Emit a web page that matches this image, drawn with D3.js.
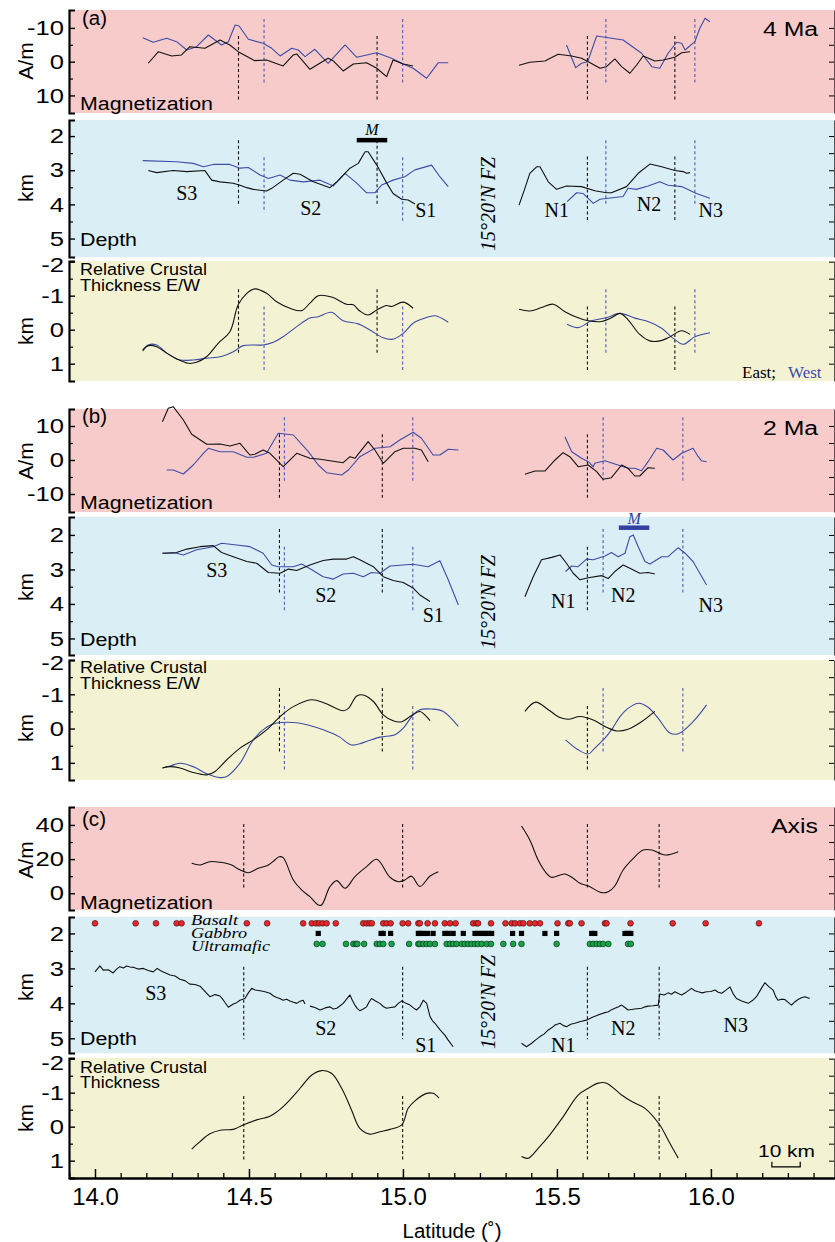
<!DOCTYPE html>
<html><head><meta charset="utf-8">
<script src="https://cdn.jsdelivr.net/npm/d3@7"></script>
<style>body{margin:0;background:#fff}svg{display:block}</style>
</head><body>
<svg id="c" width="835" height="1242"></svg>
<script>
// ---------------- DATA ----------------
const xTickValues = [14.0, 14.5, 15.0, 15.5, 16.0];
const xTickLabels = ["14.0", "14.5", "15.0", "15.5", "16.0"];
const magTicksAB = [-10, 0, 10];
const magTicksC = [0, 20, 40];
const depTicks = [2, 3, 4, 5];
const thkTicks = [-2, -1, 0, 1];

// (a) 4 Ma
const a_mag_east_s = [[14.173,0.47],[14.206,-2.96],[14.249,-1.69],[14.281,-1.98],[14.308,-4.44],[14.357,-3.96],[14.406,-6.42],[14.438,-4.94],[14.465,-2.96],[14.519,-0.30],[14.557,-0.50],[14.611,1.27],[14.644,-1.98],[14.655,-2.28],[14.698,2.25],[14.757,-1.01],[14.773,-0.30],[14.806,2.75],[14.839,0.68],[14.882,0.30],[14.915,1.95],[14.947,4.44],[14.968,-0.50],[15.001,0.68],[15.033,1.27]];
const a_mag_west_s = [[14.155,-7.10],[14.189,-5.74],[14.233,-6.92],[14.265,-5.92],[14.298,-3.46],[14.330,-4.44],[14.368,-7.90],[14.411,-4.94],[14.433,-5.92],[14.455,-10.86],[14.468,-10.56],[14.498,-6.63],[14.546,-5.44],[14.574,-3.96],[14.601,-1.69],[14.639,-3.96],[14.660,-3.46],[14.682,-1.48],[14.714,-3.67],[14.757,0.47],[14.812,-4.94],[14.850,-1.30],[14.915,-2.66],[14.963,-1.01],[15.001,0.68],[15.033,1.95],[15.077,4.91],[15.093,2.96],[15.115,0.30],[15.147,0.30]];
const a_mag_east_n = [[15.377,1.07],[15.412,0.18],[15.461,-0.21],[15.504,-2.19],[15.548,-1.69],[15.580,-1.01],[15.602,0.00],[15.640,1.95],[15.661,1.48],[15.688,-0.80],[15.710,1.48],[15.737,3.43],[15.759,0.98],[15.780,-1.69],[15.818,-0.21],[15.845,-0.50],[15.883,-1.30],[15.905,-2.66],[15.932,-2.96]];
const a_mag_west_n = [[15.531,-4.94],[15.561,1.78],[15.580,0.47],[15.600,0.00],[15.629,-7.60],[15.667,-7.10],[15.715,-6.42],[15.775,-2.49],[15.808,1.48],[15.834,1.95],[15.861,-2.49],[15.889,-5.74],[15.905,-5.44],[15.916,-3.46],[15.948,-5.92],[15.964,-9.88],[15.981,-12.84],[15.997,-11.83]];
const a_dep_east_s = [[14.173,3.01],[14.200,3.07],[14.254,3.01],[14.298,3.04],[14.357,3.01],[14.379,3.29],[14.406,3.34],[14.449,3.38],[14.471,3.44],[14.493,3.51],[14.514,3.56],[14.557,3.61],[14.574,3.53],[14.611,3.29],[14.644,3.09],[14.666,3.12],[14.709,3.34],[14.763,3.51],[14.785,3.34],[14.828,2.94],[14.855,2.80],[14.877,2.46],[14.887,2.46],[14.915,2.85],[14.947,3.37],[14.968,3.68],[14.996,3.85],[15.017,3.87],[15.039,3.99]];
const a_dep_west_s = [[14.155,2.72],[14.265,2.75],[14.319,2.80],[14.352,2.90],[14.384,2.83],[14.438,2.83],[14.471,2.94],[14.498,2.92],[14.536,3.14],[14.563,3.24],[14.601,3.14],[14.633,3.29],[14.676,3.34],[14.731,3.29],[14.774,3.46],[14.812,3.09],[14.850,3.38],[14.882,3.66],[14.909,3.66],[14.931,3.43],[14.968,3.29],[15.006,3.19],[15.039,2.99],[15.093,2.85],[15.120,3.19],[15.147,3.48]];
const a_dep_east_n = [[15.377,4.02],[15.396,3.53],[15.412,3.09],[15.434,2.90],[15.445,2.90],[15.472,3.34],[15.499,3.56],[15.531,3.46],[15.580,3.48],[15.623,3.60],[15.661,3.66],[15.677,3.66],[15.726,3.48],[15.764,3.09],[15.802,2.82],[15.840,2.90],[15.883,3.01],[15.910,3.04],[15.921,3.09],[15.932,3.07]];
const a_dep_west_n = [[15.533,3.92],[15.564,3.66],[15.585,3.68],[15.618,3.97],[15.640,3.85],[15.667,3.82],[15.715,3.77],[15.731,3.53],[15.758,3.56],[15.796,3.46],[15.834,3.34],[15.861,3.44],[15.905,3.48],[15.953,3.68],[15.997,3.82]];
const a_thk_east_s = [[14.155,0.60],[14.173,0.47],[14.200,0.50],[14.233,0.69],[14.265,0.86],[14.303,0.99],[14.330,0.96],[14.363,0.79],[14.400,0.40],[14.438,0.06],[14.465,-0.73],[14.493,-1.07],[14.519,-1.20],[14.557,-1.07],[14.590,-0.82],[14.633,-0.63],[14.671,-0.56],[14.698,-0.78],[14.725,-1.00],[14.768,-0.96],[14.817,-0.75],[14.839,-0.73],[14.860,-0.55],[14.887,-0.43],[14.915,-0.58],[14.947,-0.71],[14.963,-0.68],[15.001,-0.81],[15.033,-0.63]];
const a_thk_west_s = [[14.155,0.63],[14.173,0.45],[14.200,0.45],[14.233,0.69],[14.276,0.89],[14.319,0.89],[14.363,0.84],[14.411,0.79],[14.449,0.65],[14.481,0.47],[14.546,0.45],[14.579,0.37],[14.611,0.21],[14.655,-0.09],[14.698,-0.34],[14.725,-0.38],[14.768,-0.51],[14.806,-0.26],[14.855,-0.17],[14.893,0.01],[14.936,0.24],[14.968,0.28],[15.001,0.11],[15.033,-0.19],[15.071,-0.34],[15.104,-0.41],[15.147,-0.22]];
const a_thk_east_n = [[15.377,-0.60],[15.412,-0.55],[15.450,-0.65],[15.488,-0.75],[15.526,-0.53],[15.569,-0.35],[15.602,-0.26],[15.645,-0.24],[15.677,-0.35],[15.705,-0.48],[15.731,-0.29],[15.769,0.14],[15.802,0.33],[15.834,0.33],[15.861,0.24],[15.905,0.03],[15.932,0.14]];
const a_thk_west_n = [[15.533,-0.16],[15.569,-0.06],[15.612,-0.26],[15.661,-0.35],[15.705,-0.48],[15.753,-0.34],[15.796,-0.24],[15.840,-0.04],[15.877,0.25],[15.910,0.43],[15.948,0.21],[15.997,0.09]];
const a_dash_east_lat = [14.466, 14.916, 15.599, 15.883];
const a_dash_west_lat = [14.549, 14.999, 15.659, 15.948];
const a_mag_dash_east = [[-7.6,11.6],[-7.6,11.6],[-7.6,11.6],[-7.6,11.6]];
const a_mag_dash_west = [[-12.6,6.6],[-12.6,6.6],[-12.6,6.6],[-12.6,6.6]];
const a_dep_dash_east = [[2.12,4.02],[2.12,4.02],[2.6,4.5],[2.6,4.5]];
const a_dep_dash_west = [[2.62,4.24],[2.62,4.5],[2.12,4.02],[2.12,4.02]];
const a_thk_dash_east = [[-1.19,0.74],[-1.19,0.74],[-0.68,1.25],[-0.68,1.25]];
const a_thk_dash_west = [[-0.68,1.25],[-0.68,1.25],[-1.19,0.74],[-1.19,0.74]];
const a_mbar = [14.850, 14.949, 2.12];

// (b) 2 Ma
const b_mag_east_s = [[14.219,11.26],[14.238,15.21],[14.254,15.68],[14.287,11.76],[14.314,7.56],[14.363,4.62],[14.406,4.71],[14.438,4.12],[14.471,4.91],[14.503,1.47],[14.519,1.68],[14.546,2.94],[14.568,1.97],[14.611,-1.97],[14.655,1.97],[14.698,0.50],[14.731,0.21],[14.806,-0.79],[14.828,0.97],[14.844,0.50],[14.887,5.38],[14.909,2.94],[14.936,-0.97],[14.974,2.44],[15.001,3.44],[15.039,3.44],[15.060,2.94],[15.082,-0.50]];
const b_mag_west_s = [[14.233,-2.94],[14.254,-2.94],[14.287,-4.12],[14.319,-1.47],[14.352,1.97],[14.368,3.44],[14.406,2.44],[14.449,2.44],[14.493,0.79],[14.514,0.79],[14.557,1.97],[14.595,7.85],[14.644,7.35],[14.693,2.44],[14.725,-1.47],[14.752,-3.74],[14.801,-4.41],[14.823,-2.94],[14.860,0.97],[14.909,3.44],[14.958,3.91],[14.990,5.88],[15.033,8.15],[15.060,6.38],[15.098,1.47],[15.120,1.47],[15.147,3.15],[15.180,2.94]];
const b_mag_east_n = [[15.396,-4.21],[15.429,-3.24],[15.461,-3.24],[15.494,0.00],[15.520,2.15],[15.542,0.97],[15.569,-1.97],[15.602,-1.47],[15.629,-3.44],[15.650,-5.68],[15.677,-5.21],[15.710,-1.47],[15.731,-2.44],[15.753,-4.71],[15.769,-4.71],[15.796,-2.26],[15.818,-2.44]];
const b_mag_west_n = [[15.526,6.85],[15.548,2.44],[15.580,0.50],[15.602,-0.50],[15.618,-1.97],[15.623,-0.97],[15.656,-0.21],[15.688,-1.18],[15.731,-2.44],[15.753,-2.44],[15.775,-3.15],[15.796,-0.50],[15.824,3.44],[15.845,2.94],[15.877,0.00],[15.905,1.97],[15.942,3.44],[15.959,0.97],[15.969,-0.21],[15.986,-0.50]];
const b_dep_east_s = [[14.219,2.53],[14.265,2.51],[14.298,2.41],[14.341,2.34],[14.384,2.31],[14.411,2.51],[14.449,2.63],[14.493,2.77],[14.525,2.82],[14.563,3.09],[14.601,3.11],[14.628,2.99],[14.655,3.03],[14.698,2.87],[14.741,2.74],[14.774,2.70],[14.817,2.70],[14.839,2.63],[14.860,2.72],[14.904,2.92],[14.936,3.21],[14.968,3.32],[15.001,3.38],[15.033,3.54],[15.055,3.74],[15.088,3.93]];
const b_dep_west_s = [[14.219,2.53],[14.265,2.53],[14.287,2.58],[14.330,2.43],[14.384,2.34],[14.411,2.24],[14.460,2.29],[14.503,2.34],[14.546,2.53],[14.574,2.87],[14.595,2.92],[14.644,2.92],[14.671,2.84],[14.704,3.01],[14.741,3.21],[14.774,3.28],[14.806,3.13],[14.839,3.11],[14.871,3.21],[14.898,3.09],[14.925,3.11],[14.958,2.90],[15.033,2.85],[15.082,2.92],[15.120,2.75],[15.147,3.30],[15.180,4.03]];
const b_dep_east_n = [[15.396,3.79],[15.423,3.21],[15.450,2.72],[15.483,2.65],[15.510,2.58],[15.531,2.82],[15.553,3.11],[15.575,3.30],[15.602,3.24],[15.645,3.18],[15.667,3.26],[15.688,3.06],[15.715,2.87],[15.742,2.99],[15.769,3.11],[15.796,3.09],[15.818,3.13]];
const b_dep_west_n = [[15.528,3.06],[15.548,2.90],[15.569,2.92],[15.596,2.70],[15.618,2.72],[15.656,2.61],[15.677,2.51],[15.699,2.63],[15.721,2.53],[15.737,2.05],[15.748,2.00],[15.764,2.34],[15.786,2.77],[15.802,2.84],[15.840,2.63],[15.861,2.63],[15.894,2.37],[15.916,2.53],[15.942,2.77],[15.964,3.11],[15.986,3.45]];
const b_thk_east_s = [[14.219,1.15],[14.244,1.11],[14.276,1.15],[14.319,1.28],[14.363,1.35],[14.390,1.25],[14.428,0.91],[14.471,0.57],[14.514,0.33],[14.557,0.04],[14.601,-0.35],[14.644,-0.64],[14.703,-0.84],[14.747,-0.74],[14.806,-0.52],[14.823,-0.59],[14.850,-0.95],[14.871,-0.98],[14.904,-0.79],[14.936,-0.40],[14.968,-0.23],[14.996,-0.20],[15.023,-0.35],[15.055,-0.50],[15.071,-0.40],[15.088,-0.23]];
const b_thk_west_s = [[14.219,1.15],[14.244,1.09],[14.276,1.01],[14.319,1.11],[14.363,1.32],[14.406,1.43],[14.428,1.40],[14.471,1.01],[14.514,0.33],[14.557,-0.04],[14.590,-0.16],[14.655,-0.17],[14.709,-0.06],[14.774,0.15],[14.795,0.25],[14.833,0.48],[14.871,0.41],[14.925,0.25],[14.974,0.18],[15.001,-0.01],[15.033,-0.40],[15.055,-0.55],[15.093,-0.57],[15.131,-0.50],[15.180,-0.06]];
const b_thk_east_n = [[15.396,-0.50],[15.431,-0.77],[15.472,-0.55],[15.510,-0.32],[15.537,-0.27],[15.575,-0.35],[15.618,-0.25],[15.656,-0.06],[15.694,0.07],[15.731,0.02],[15.775,-0.20],[15.818,-0.50]];
const b_thk_west_n = [[15.528,0.33],[15.569,0.62],[15.602,0.74],[15.623,0.57],[15.656,0.28],[15.677,0.04],[15.705,-0.35],[15.731,-0.59],[15.766,-0.74],[15.796,-0.62],[15.829,-0.30],[15.867,0.13],[15.894,0.15],[15.942,-0.20],[15.986,-0.69]];
const b_dash_east_lat = [14.599, 14.933, 15.599];
const b_dash_west_lat = [14.615, 15.032, 15.650, 15.909];
const b_mag_dash_east = [[7.56,-11.56],[7.56,-11.56],[7.56,-11.56]];
const b_mag_dash_west = [[12.56,-6.68],[12.56,-6.68],[12.56,-6.68],[12.56,-6.68]];
const b_dep_dash_east = [[1.83,3.74],[1.83,3.74],[2.34,4.22]];
const b_dep_dash_west = [[2.34,4.22],[2.34,4.22],[1.83,3.74],[1.83,3.74]];
const b_thk_dash_east = [[-1.18,0.74],[-1.18,0.74],[-0.66,1.22]];
const b_thk_dash_west = [[-0.66,1.22],[-0.66,1.22],[-1.18,0.74],[-1.18,0.74]];
const b_mbar = [15.701, 15.800, 1.79];

// (c) Axis
const c_mag_s = [[14.314,17.54],[14.341,16.55],[14.373,18.48],[14.406,18.13],[14.444,16.55],[14.465,14.21],[14.498,12.05],[14.530,14.62],[14.563,16.55],[14.584,19.47],[14.598,21.40],[14.611,20.82],[14.644,7.78],[14.671,1.93],[14.698,-1.99],[14.725,-6.84],[14.736,-6.84],[14.763,3.86],[14.785,7.37],[14.812,2.92],[14.844,9.71],[14.882,15.56],[14.915,19.88],[14.958,9.36],[14.985,6.78],[15.006,7.78],[15.028,10.0],[15.055,4.0],[15.088,10.12],[15.115,12.63]];
const c_mag_n = [[15.385,39.36],[15.412,31.17],[15.439,19.47],[15.466,11.70],[15.482,9.36],[15.526,11.29],[15.553,8.77],[15.575,5.85],[15.602,4.27],[15.645,0.35],[15.667,0.94],[15.688,4.27],[15.715,13.63],[15.748,20.47],[15.780,25.32],[15.808,25.32],[15.851,22.40],[15.894,24.33]];
const c_dep_s3 = [[14.000,3.10],[14.016,2.93],[14.027,3.05],[14.043,3.04],[14.059,3.13],[14.070,3.02],[14.081,2.95],[14.092,2.99],[14.103,2.93],[14.114,2.96],[14.124,2.97],[14.140,3.02],[14.157,3.00],[14.173,3.06],[14.189,3.10],[14.202,3.00],[14.212,3.06],[14.222,3.10],[14.244,3.19],[14.260,3.22],[14.276,3.31],[14.292,3.35],[14.308,3.45],[14.325,3.46],[14.341,3.51],[14.357,3.66],[14.373,3.81],[14.390,3.75],[14.406,3.79],[14.417,3.91],[14.433,4.11],[14.449,4.02],[14.460,3.98],[14.471,3.91],[14.487,3.86],[14.498,3.70],[14.509,3.57],[14.520,3.62],[14.536,3.64],[14.552,3.67],[14.568,3.71],[14.580,3.79],[14.590,3.83],[14.600,3.86],[14.611,3.91],[14.622,3.88],[14.633,3.93],[14.645,3.97],[14.655,4.00],[14.666,3.94],[14.676,3.91],[14.682,4.02]];
const c_dep_s2 = [[14.698,4.08],[14.714,4.12],[14.731,4.19],[14.747,4.13],[14.763,4.10],[14.774,4.16],[14.785,4.14],[14.796,4.07],[14.806,4.00],[14.817,3.88],[14.828,3.76],[14.836,3.92],[14.844,4.05],[14.852,4.15],[14.860,4.21],[14.871,4.16],[14.882,4.10],[14.890,3.96],[14.898,3.86],[14.911,3.93],[14.925,4.00],[14.936,4.09],[14.947,4.14],[14.960,4.12],[14.974,4.10],[14.985,4.00],[14.996,3.93],[15.010,4.00],[15.023,4.05],[15.034,4.13],[15.044,4.19],[15.055,4.10],[15.066,3.91],[15.077,4.00],[15.088,4.38],[15.096,4.50],[15.104,4.57],[15.120,4.75],[15.136,4.91],[15.147,5.05],[15.163,5.24]];
const c_dep_n = [[15.385,5.14],[15.401,5.24],[15.418,5.14],[15.430,5.05],[15.445,4.95],[15.458,4.88],[15.472,4.76],[15.483,4.70],[15.494,4.62],[15.510,4.57],[15.520,4.63],[15.531,4.67],[15.545,4.60],[15.558,4.57],[15.577,4.52],[15.596,4.48],[15.615,4.40],[15.634,4.33],[15.650,4.28],[15.667,4.24],[15.678,4.18],[15.688,4.14],[15.700,4.10],[15.710,4.05],[15.721,4.12],[15.731,4.19],[15.753,4.16],[15.775,4.14],[15.786,4.10],[15.796,4.08],[15.812,4.07],[15.829,4.05],[15.834,3.73],[15.848,3.76],[15.861,3.70],[15.872,3.74],[15.883,3.67],[15.894,3.72],[15.905,3.76],[15.920,3.68],[15.937,3.57],[15.948,3.64],[15.959,3.67],[15.972,3.70],[15.986,3.67],[16.000,3.66],[16.013,3.62],[16.024,3.68],[16.035,3.71],[16.048,3.63],[16.062,3.53],[16.072,3.72],[16.083,3.86],[16.100,3.93],[16.121,4.00],[16.135,3.92],[16.148,3.81],[16.162,3.60],[16.175,3.41],[16.188,3.52],[16.202,3.62],[16.210,3.80],[16.218,3.91],[16.229,3.88],[16.240,3.89],[16.251,3.97],[16.262,4.05],[16.272,3.96],[16.283,3.89],[16.294,3.84],[16.305,3.81],[16.321,3.86]];
const c_thk_s = [[14.314,0.66],[14.341,0.44],[14.373,0.21],[14.411,0.10],[14.449,0.08],[14.481,-0.05],[14.525,-0.20],[14.568,-0.31],[14.601,-0.51],[14.633,-0.79],[14.666,-1.13],[14.704,-1.52],[14.736,-1.65],[14.768,-1.57],[14.801,-1.13],[14.833,-0.49],[14.860,0.05],[14.893,0.22],[14.925,0.15],[14.958,0.08],[14.996,-0.05],[15.017,-0.54],[15.039,-0.76],[15.077,-0.98],[15.098,-0.98],[15.117,-0.84]];
const c_thk_n = [[15.385,0.88],[15.407,0.93],[15.439,0.64],[15.477,0.24],[15.520,-0.29],[15.569,-0.93],[15.602,-1.13],[15.634,-1.28],[15.661,-1.28],[15.710,-0.93],[15.743,-0.74],[15.786,-0.54],[15.834,-0.05],[15.861,0.39],[15.894,0.93]];
const c_dash_lat = [14.483, 14.999, 15.599, 15.832];
const c_mag_dash = [40.5, 1.95];
const c_dep_dash = [2.95, 5.03];
const c_thk_dash = [-0.9, 1.03];
const scaleBar = [16.198, 16.290, 1.18];

// Rock samples (latitude)
const basalt = [14.000,14.132,14.198,14.265,14.281,14.493,14.559,14.676,14.704,14.718,14.728,14.739,14.752,14.782,14.871,14.882,14.891,14.899,14.936,14.947,14.960,14.999,15.017,15.050,15.055,15.080,15.104,15.136,15.153,15.171,15.228,15.239,15.244,15.286,15.333,15.353,15.364,15.380,15.391,15.412,15.429,15.445,15.502,15.537,15.542,15.580,15.656,15.661,15.739,15.876,15.983,16.156];
const gabbro = [14.725,14.929,14.936,14.960,15.050,15.055,15.066,15.080,15.098,15.136,15.147,15.163,15.196,15.234,15.244,15.256,15.266,15.277,15.288,15.356,15.385,15.461,15.499,15.613,15.623,15.721,15.731,15.740];
const ultramafic = [14.720,14.739,14.815,14.839,14.847,14.852,14.874,14.915,14.925,14.936,14.963,15.020,15.050,15.055,15.066,15.077,15.088,15.104,15.142,15.153,15.163,15.174,15.191,15.201,15.212,15.223,15.234,15.244,15.256,15.272,15.286,15.326,15.358,15.385,15.499,15.607,15.618,15.629,15.640,15.650,15.667,15.731,15.740];
const sampleRows = {basalt: 1.71, gabbro: 2.0, ultramafic: 2.3};

// ---------------- DRAWING ----------------
const SANS = "'Liberation Sans', Arial, Helvetica, sans-serif";
const SERIF = "'Liberation Serif', 'Times New Roman', Times, serif";
const EAST = "#111111", WEST = "#3d4ca6", WESTDASH = "#4c5cb8";
const BG = {mag: "#f8cbcb", dep: "#daeef6", thk: "#f3f3d3"};
const svg = d3.select("#c");
const X = d3.scaleLinear().domain([13.9156, 16.403]).range([69, 835]);
const gBg = svg.append("g"), gData = svg.append("g"), gAx = svg.append("g"), gTxt = svg.append("g");

function panel(yr, dom, bg) {
  gBg.append("rect").attr("x", 69).attr("y", yr[0]).attr("width", 766).attr("height", yr[1] - yr[0]).attr("fill", bg);
  return d3.scaleLinear().domain(dom).range(yr);
}
function leftAxis(y, majors, minors, topShift) {
  const g = gAx.append("g").attr("transform", "translate(69,0)");
  g.call(d3.axisLeft(y).tickValues(majors).tickFormat(d3.format("d")).tickSize(-6).tickSizeOuter(-6).tickPadding(5));
  g.select(".domain").attr("stroke-width", 2.2);
  g.selectAll(".tick line").attr("stroke-width", 1.4);
  const sx = 1.22;
  g.selectAll(".tick text").attr("font-family", SANS).attr("font-size", 21).attr("fill", "#000")
    .attr("transform", `scale(${sx},1)`).attr("x", -5 / sx).text(d => d < 0 ? "-" + Math.abs(d) : d);
  if (topShift) g.selectAll(".tick text").filter(d => d === majors[0]).attr("y", topShift);
  const m = gAx.append("g").attr("transform", "translate(69,0)");
  m.call(d3.axisLeft(y).tickValues(minors).tickFormat("").tickSize(-4).tickSizeOuter(0));
  m.select(".domain").remove();
  m.selectAll(".tick line").attr("stroke-width", 1.2);
  const r = gAx.append("g").attr("transform", "translate(834,0)");
  r.call(d3.axisRight(y).tickValues(majors.concat(minors)).tickFormat("").tickSize(-5).tickSizeOuter(0));
  r.select(".domain").attr("stroke-width", 1).attr("stroke", "#555");
}
function line(y, data, color, smooth, w) {
  const gen = d3.line().x(d => X(d[0])).y(d => y(d[1])).curve(smooth ? d3.curveCatmullRom.alpha(0.5) : d3.curveLinear);
  gData.append("path").attr("d", gen(data)).attr("fill", "none").attr("stroke", color).attr("stroke-width", w || 1.1).attr("stroke-linejoin", "round");
}
function dashes(y, lats, ext, color) {
  lats.forEach((lat, i) => {
    const e = Array.isArray(ext[0]) ? ext[i] : ext;
    gData.append("line").attr("x1", X(lat)).attr("x2", X(lat)).attr("y1", y(e[0])).attr("y2", y(e[1]))
      .attr("stroke", color).attr("stroke-width", 1.1).attr("stroke-dasharray", "3,2.5");
  });
}
function txt(x, y, s, opt) {
  const t = gTxt.append("text").attr("x", x).attr("y", y).text(s)
    .attr("font-family", opt.serif ? SERIF : SANS).attr("font-size", opt.size).attr("fill", opt.color || "#000");
  if (opt.anchor) t.attr("text-anchor", opt.anchor);
  if (opt.italic) t.attr("font-style", "italic");
  if (opt.len) t.attr("textLength", opt.len).attr("lengthAdjust", "spacingAndGlyphs");
  if (opt.rot) t.attr("transform", `rotate(-90,${x},${y})`);
  return t;
}

// ---- panels
const yAm = panel([10, 113], [-15.3, 15.2], BG.mag);
const yAd = panel([120, 257], [1.53, 5.54], BG.dep);
const yAt = panel([261, 381], [-2.02, 1.51], BG.thk);
const yBm = panel([409, 512], [15, -15.3], BG.mag);
const yBd = panel([517, 655], [1.48, 5.48], BG.dep);
const yBt = panel([660, 780], [-2.0, 1.5], BG.thk);
const yCm = panel([807, 910], [50.5, -9.8], BG.mag);
const yCd = panel([917, 1053], [1.53, 5.42], BG.dep);
const yCt = panel([1058, 1178], [-2.02, 1.51], BG.thk);

// dashed boundaries
dashes(yAm, a_dash_east_lat, a_mag_dash_east, EAST); dashes(yAm, a_dash_west_lat, a_mag_dash_west, WESTDASH);
dashes(yAd, a_dash_east_lat, a_dep_dash_east, EAST); dashes(yAd, a_dash_west_lat, a_dep_dash_west, WESTDASH);
dashes(yAt, a_dash_east_lat, a_thk_dash_east, EAST); dashes(yAt, a_dash_west_lat, a_thk_dash_west, WESTDASH);
dashes(yBm, b_dash_east_lat, b_mag_dash_east, EAST); dashes(yBm, b_dash_west_lat, b_mag_dash_west, WESTDASH);
dashes(yBd, b_dash_east_lat, b_dep_dash_east, EAST); dashes(yBd, b_dash_west_lat, b_dep_dash_west, WESTDASH);
dashes(yBt, b_dash_east_lat, b_thk_dash_east, EAST); dashes(yBt, b_dash_west_lat, b_thk_dash_west, WESTDASH);
dashes(yCm, c_dash_lat, c_mag_dash, EAST); dashes(yCd, c_dash_lat, c_dep_dash, EAST); dashes(yCt, c_dash_lat, c_thk_dash, EAST);

// curves
[[yAm,a_mag_west_s,WEST,0],[yAm,a_mag_west_n,WEST,0],[yAm,a_mag_east_s,EAST,0],[yAm,a_mag_east_n,EAST,0],
 [yAd,a_dep_west_s,WEST,0],[yAd,a_dep_west_n,WEST,0],[yAd,a_dep_east_s,EAST,0],[yAd,a_dep_east_n,EAST,0],
 [yAt,a_thk_west_s,WEST,1],[yAt,a_thk_west_n,WEST,1],[yAt,a_thk_east_s,EAST,1],[yAt,a_thk_east_n,EAST,1],
 [yBm,b_mag_west_s,WEST,0],[yBm,b_mag_west_n,WEST,0],[yBm,b_mag_east_s,EAST,0],[yBm,b_mag_east_n,EAST,0],
 [yBd,b_dep_west_s,WEST,0],[yBd,b_dep_west_n,WEST,0],[yBd,b_dep_east_s,EAST,0],[yBd,b_dep_east_n,EAST,0],
 [yBt,b_thk_west_s,WEST,1],[yBt,b_thk_west_n,WEST,1],[yBt,b_thk_east_s,EAST,1],[yBt,b_thk_east_n,EAST,1],
 [yCm,c_mag_s,EAST,1],[yCm,c_mag_n,EAST,1],
 [yCd,c_dep_s3,EAST,0],[yCd,c_dep_s2,EAST,0],[yCd,c_dep_n,EAST,0],
 [yCt,c_thk_s,EAST,1],[yCt,c_thk_n,EAST,1]].forEach(a => line(a[0], a[1], a[2], a[3]));

// M bars
gData.append("line").attr("x1", X(a_mbar[0])).attr("x2", X(a_mbar[1])).attr("y1", yAd(a_mbar[2])).attr("y2", yAd(a_mbar[2])).attr("stroke", "#000").attr("stroke-width", 4.5);
gData.append("line").attr("x1", X(b_mbar[0])).attr("x2", X(b_mbar[1])).attr("y1", yBd(b_mbar[2])).attr("y2", yBd(b_mbar[2])).attr("stroke", "#3340a0").attr("stroke-width", 4.5);
txt(X((a_mbar[0] + a_mbar[1]) / 2), yAd(a_mbar[2]) - 5, "M", {serif: 1, italic: 1, size: 16, anchor: "middle"});
txt(X((b_mbar[0] + b_mbar[1]) / 2), yBd(b_mbar[2]) - 4, "M", {serif: 1, italic: 1, size: 16, anchor: "middle", color: "#3340a0"});

// samples
gData.selectAll(null).data(basalt).enter().append("circle").attr("cx", d => X(d)).attr("cy", yCd(sampleRows.basalt)).attr("r", 2.9)
  .attr("fill", "#e8262a").attr("stroke", "#3a0a0a").attr("stroke-width", 0.6);
gData.selectAll(null).data(gabbro).enter().append("rect").attr("x", d => X(d) - 2.6).attr("y", yCd(sampleRows.gabbro) - 2.6).attr("width", 5.2).attr("height", 5.2).attr("fill", "#000");
gData.selectAll(null).data(ultramafic).enter().append("circle").attr("cx", d => X(d)).attr("cy", yCd(sampleRows.ultramafic)).attr("r", 2.9)
  .attr("fill", "#17a24a").attr("stroke", "#062a10").attr("stroke-width", 0.6);
txt(191, 925, "Basalt", {serif: 1, italic: 1, size: 14, len: 47});
txt(191, 938, "Gabbro", {serif: 1, italic: 1, size: 14, len: 56});
txt(191, 951, "Ultramafic", {serif: 1, italic: 1, size: 14, len: 79});

// scale bar
const sbY = yCt(scaleBar[2]);
gData.append("path").attr("d", `M${X(scaleBar[0])},${sbY - 5}V${sbY}H${X(scaleBar[1])}V${sbY - 5}`).attr("fill", "none").attr("stroke", "#000").attr("stroke-width", 1.2);
txt(786.5, 1157, "10 km", {size: 17, anchor: "middle", len: 57});

// axes
[[yAm, magTicksAB, [-5, 5], 0], [yAd, depTicks, [2.5, 3.5, 4.5], 0], [yAt, thkTicks, [-1.5, -0.5, 0.5], 3],
 [yBm, magTicksAB.slice().reverse(), [-5, 5], 0], [yBd, depTicks, [2.5, 3.5, 4.5], 0], [yBt, thkTicks, [-1.5, -0.5, 0.5], 3],
 [yCm, magTicksC, [10, 30], 0], [yCd, depTicks, [2.5, 3.5, 4.5], 0], [yCt, thkTicks, [-1.5, -0.5, 0.5], 4]].forEach(a => leftAxis(a[0], a[1], a[2], a[3]));

// bottom axis
const gx = gAx.append("g").attr("transform", "translate(0,1178)");
gx.call(d3.axisBottom(X).tickValues(xTickValues).tickFormat((d, i) => xTickLabels[i]).tickSize(-9).tickSizeOuter(0).tickPadding(10));
gx.select(".domain").attr("stroke-width", 2.6);
gx.selectAll(".tick line").attr("stroke-width", 1.5);
gx.selectAll(".tick text").attr("font-family", SANS).attr("font-size", 24).attr("fill", "#000");
const minorX = d3.range(-1, 29).map(k => 14 + k / 12).filter(v => xTickValues.every(t => Math.abs(t - v) > 1e-6));
const gxm = gAx.append("g").attr("transform", "translate(0,1178)");
gxm.call(d3.axisBottom(X).tickValues(minorX).tickFormat("").tickSize(-5).tickSizeOuter(0));
gxm.select(".domain").remove();
gxm.selectAll(".tick line").attr("stroke-width", 1.3);
txt(452, 1238, "Latitude (˚)", {size: 20, anchor: "middle", len: 99});

// axis titles
[[61, "A/m"], [188, "km"], [331, "km"], [461, "A/m"], [587, "km"], [728, "km"], [860, "A/m"], [987, "km"], [1118, "km"]]
  .forEach(d => txt(33, d[0], d[1], {size: 21, anchor: "middle", rot: 1}));

// panel texts
txt(82, 25, "(a)", {size: 20, len: 25});
txt(818, 36, "4 Ma", {size: 20, anchor: "end", len: 55});
txt(80, 110, "Magnetization", {size: 18, len: 133});
txt(80, 246, "Depth", {size: 18, len: 57});
txt(80, 275, "Relative Crustal", {size: 16, len: 127});
txt(80, 291, "Thickness E/W", {size: 16, len: 120});
txt(82, 423, "(b)", {size: 20, len: 25});
txt(818, 435, "2 Ma", {size: 20, anchor: "end", len: 55});
txt(80, 509, "Magnetization", {size: 18, len: 133});
txt(80, 646, "Depth", {size: 18, len: 57});
txt(80, 673, "Relative Crustal", {size: 16, len: 127});
txt(80, 689, "Thickness E/W", {size: 16, len: 120});
txt(82, 826, "(c)", {size: 20, len: 24});
txt(818, 833, "Axis", {size: 20, anchor: "end", len: 47});
txt(80, 909, "Magnetization", {size: 18, len: 133});
txt(80, 1045, "Depth", {size: 18, len: 57});
txt(80, 1073, "Relative Crustal", {size: 16, len: 127});
txt(80, 1088, "Thickness", {size: 16, len: 80});
txt(742, 378, "East;", {serif: 1, size: 17});
txt(788, 378, "West", {serif: 1, size: 17, color: WEST});

// FZ labels
[204, 602, 1002].forEach(cy => txt(495, cy, "15°20'N FZ", {serif: 1, italic: 1, size: 20, anchor: "middle", rot: 1}));

// segment labels
const segLabels = [
  ["S3",186.7,200],["S2",310.8,215],["S1",425.8,217],["N1",556.7,217],["N2",649,211],["N3",710.7,217],
  ["S3",216.7,576.7],["S2",325.8,601.7],["S1",433.3,621.7],["N1",563.3,608.3],["N2",623.3,601.7],["N3",710.8,611.7],
  ["S3",155.8,1000],["S2",325.8,1035],["S1",425.8,1051.7],["N1",563.3,1051.7],["N2",623.3,1035],["N3",735.8,1031.7]];
segLabels.forEach(s => txt(s[1], s[2], s[0], {serif: 1, size: 20, anchor: "middle"}));
</script>
</body></html>
